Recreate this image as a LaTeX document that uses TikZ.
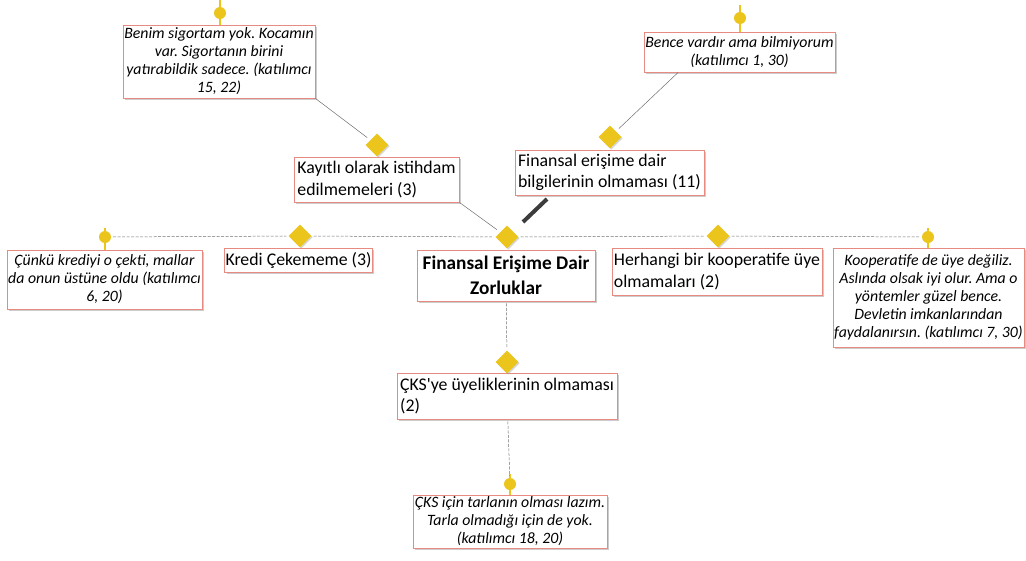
\documentclass[tikz,border=0pt]{standalone}
\usepackage{fontspec}
\setmainfont{Carlito}
\newfontfamily\cstraight{Carlito}
\frenchspacing
\usetikzlibrary{shapes.geometric,shadows,calc}
\definecolor{gold}{HTML}{EBC51C}
\definecolor{boxred}{HTML}{E98A80}
\definecolor{lnk}{HTML}{6E6E6E}
\definecolor{barc}{HTML}{3C3C3C}
\tikzset{
  box/.style={draw=boxred, line width=0.9pt, fill=white, inner xsep=1pt, inner ysep=1pt,
    drop shadow={shadow xshift=2pt, shadow yshift=-2pt, fill=black!40, opacity=0.5}},
  quote/.style={box, font=\itshape\fontsize{15.8}{18}\selectfont, align=center},
  topic/.style={box, font=\fontsize{17.8}{21.5}\selectfont, align=left},
  core/.style={box, font=\bfseries\fontsize{19.3}{25}\selectfont, align=center},
  dia/.style={diamond, aspect=1, fill=gold, inner sep=0pt, minimum size=23pt,
    drop shadow={shadow xshift=1.2pt, shadow yshift=-1.2pt, fill=black!40, opacity=0.4}},
  pin/.style={circle, fill=gold, inner sep=0pt, minimum size=12pt},
  stem/.style={gold, line width=2pt},
  dline/.style={lnk, line width=0.5pt, dash pattern=on 3pt off 1.5pt, shorten >=2pt, shorten <=2pt},
  sline/.style={lnk, line width=0.5pt, shorten >=4pt},
  bar/.style={barc, line width=4pt}
}
\begin{document}
\begin{tikzpicture}[x=1pt,y=-1pt]
\useasboundingbox (0,0) rectangle (1026,560);

% boxes
\node[quote, minimum width=192pt, minimum height=73pt] (q1) at (219,61.5)
  {Benim sigortam yok. Kocamın\\ var. Sigortanın birini\\ yatırabildik sadece. (katılımcı\\ 15, 22)};
\node[quote, minimum width=191pt, minimum height=40pt] (q2) at (739.5,52)
  {Bence vardır ama bilmiyorum\\ (katılımcı 1, 30)};
\node[topic, minimum width=165pt, minimum height=45pt] (t1) at (376.5,179.5)
  {Kayıtlı olarak istihdam\\ edilmemeleri (3)};
\node[topic, minimum width=189pt, minimum height=45pt] (t2) at (609.5,172.5)
  {Finansal erişime dair\\ bilgilerinin olmaması (11)};
\node[core, minimum width=178pt, minimum height=51pt] (c) at (506,275.5)
  {Finansal Erişime Dair\\ Zorluklar};
\node[topic, minimum width=147pt, minimum height=24pt] (t3) at (298.5,260)
  {Kredi Çekememe (3)};
\node[quote, minimum width=195pt, minimum height=59pt] (q3) at (104.5,279.5)
  {Çünkü krediyi o çekti, mallar\\ da onun üstüne oldu (katılımcı\\ 6, 20)};
\node[topic, minimum width=210pt, minimum height=47pt] (t4) at (717,271.5)
  {Herhangi bir kooperatife üye\\ olmamaları (2)};
\node[quote, minimum width=191pt, minimum height=99pt] (q4) at (928.5,297.5)
  {Kooperatife de üye değiliz.\\ Aslında olsak iyi olur. Ama o\\ yöntemler güzel bence.\\ Devletin imkanlarından\\ faydalanırsın. (katılımcı 7, 30)};
\node[topic, minimum width=220pt, minimum height=46pt] (t5) at (507,396)
  {ÇKS{\cstraight'}ye üyeliklerinin olmaması\\ (2)};
\node[quote, minimum width=194pt, minimum height=53pt] (q5) at (510,521.5)
  {ÇKS için tarlanın olması lazım.\\ Tarla olmadığı için de yok.\\ (katılımcı 18, 20)};

% diamonds
\node[dia] (d1) at (377,145) {};
\node[dia] (d2) at (610,137) {};
\node[dia] (dc) at (507,237) {};
\node[dia] (d3) at (300,236) {};
\node[dia] (d4) at (718,236) {};
\node[dia] (d5) at (507,362) {};

% pins with stems
\coordinate (s1) at (220,0);
\coordinate (s2) at (740,5);
\coordinate (s3) at (105,228);
\coordinate (s4) at (928,228);
\coordinate (s5) at (510,474);
\draw[stem] (s1) -- (q1.north -| s1);
\draw[stem] (s2) -- (q2.north -| s2);
\draw[stem] (s3) -- (q3.north -| s3);
\draw[stem] (s4) -- (q4.north -| s4);
\draw[stem] (s5) -- (q5.north -| s5);
\node[pin] (p1) at (220,13) {};
\node[pin] (p2) at (740,18) {};
\node[pin] (p3) at (105,237) {};
\node[pin] (p4) at (928,237) {};
\node[pin] (p5) at (510,484) {};

% dashed main axis
\draw[dline] (p3) -- (d3);
\draw[dline] (d3) -- (dc);
\draw[dline] (dc) -- (d4);
\draw[dline] (d4) -- (p4);
\draw[dline] (c) -- (d5);
\draw[dline] (t5) -- (p5);

% solid thin links
\draw[sline] (q1.south east) -- (d1);
\draw[sline] (t1.south east) -- (dc);
\draw[sline] ($(q2.south west)!0.18!(q2.south east)$) -- (d2);

% thick bar
\coordinate (b1) at (523,222);
\coordinate (b2) at (547,199);
\draw[bar] (b1) -- (b2);
\end{tikzpicture}
\end{document}
